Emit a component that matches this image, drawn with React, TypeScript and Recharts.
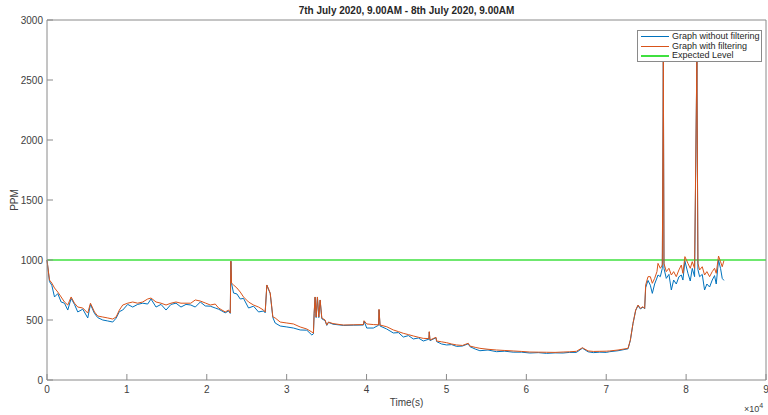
import { LineChart, Line, XAxis, YAxis, ReferenceLine } from "recharts";

// time in seconds
const timeSec = [
  0, 310, 600, 940, 1350, 1770, 2190, 2600, 3020, 3440,
  3850, 4480, 5100, 5440, 5940, 6350, 6980, 7600, 8230, 8650,
  9060, 9480, 10100, 10730, 11350, 11980, 12600, 13020, 13650, 14270,
  14900, 15520, 16150, 16770, 17400, 18000, 18560, 19190, 19810, 20440,
  21060, 21480, 21900, 22310, 22730, 22940, 23020, 23100, 23350, 23770,
  24190, 24600, 25230, 25850, 26480, 27100, 27310, 27520, 27940, 28270,
  28560, 29190, 30020, 30850, 31690, 32520, 33150, 33350, 33440, 33560,
  33690, 33850, 34020, 34190, 34400, 34810, 35020, 35230, 35800, 37100,
  38400, 39600, 39690, 40020, 40850, 41500, 41560, 41690, 42520, 43350,
  44000, 44600, 45250, 45850, 46500, 47100, 47800, 47850, 47940, 48690,
  48770, 49400, 50020, 50650, 51270, 52000, 52730, 52940, 53600, 54190,
  55200, 56270, 57300, 58350, 59400, 60440, 61500, 62520, 63600, 64600,
  65400, 66270, 67020, 67730, 68400, 69190, 70000, 70440, 71480, 72730,
  73020, 73350, 73690, 73980, 74270, 74600, 74810, 74940, 75230, 75520,
  75770, 76060, 76350, 76480, 76770, 77020, 77150, 77230, 77520, 77850,
  78150, 78440, 78770, 79100, 79400, 79600, 79850, 80230, 80520, 80770,
  81060, 81350, 81480, 81690, 82020, 82310, 82600, 82940, 83270, 83560,
  83770, 84060, 84310, 84520, 84730,
];

// PPM with filtering (orange)
const withFiltering = [
  1000, 833, 808, 767, 733, 692, 650, 625, 692, 640,
  608, 600, 558, 640, 567, 533, 525, 517, 508, 525,
  583, 625, 640, 650, 640, 650, 675, 683, 650, 640,
  625, 640, 650, 640, 640, 640, 667, 658, 642, 625,
  633, 600, 583, 567, 583, 558, 990, 808, 792, 767,
  733, 692, 650, 625, 608, 583, 567, 792, 725, 525,
  517, 483, 475, 467, 442, 425, 400, 392, 558, 692,
  525, 692, 525, 667, 517, 500, 458, 483, 470, 458,
  460, 462, 494, 467, 462, 460, 589, 458, 444, 417,
  403, 389, 378, 367, 356, 347, 345, 403, 333, 356,
  325, 318, 311, 300, 292, 288, 306, 283, 272, 264,
  256, 250, 246, 242, 238, 233, 232, 231, 230, 233,
  235, 239, 269, 242, 238, 239, 240, 242, 250, 264,
  333, 472, 583, 625, 597, 611, 597, 792, 861, 861,
  806, 847, 903, 972, 931, 958, 2680, 972, 903, 931,
  875, 903, 861, 917, 958, 889, 1028, 972, 931, 986,
  931, 2700, 972, 917, 944, 875, 903, 861, 903, 931,
  889, 1033, 986, 944, 994,
];

// PPM without filtering (blue)
const withoutFiltering = [
  1000, 820, 790, 692, 720, 650, 640, 583, 680, 630,
  567, 590, 517, 630, 555, 520, 500, 492, 483, 515,
  570, 583, 630, 608, 630, 640, 633, 675, 608, 630,
  583, 630, 640, 608, 630, 625, 608, 650, 617, 615,
  600, 590, 575, 560, 575, 555, 990, 805, 725, 717,
  675, 680, 600, 615, 567, 575, 560, 790, 720, 520,
  475, 450, 442, 433, 417, 415, 375, 385, 555, 690,
  520, 690, 520, 665, 510, 495, 455, 480, 465, 455,
  457, 458, 490, 433, 433, 456, 585, 450, 425, 392,
  395, 358, 370, 342, 350, 325, 340, 400, 328, 352,
  320, 300, 292, 295, 280, 283, 302, 278, 258, 244,
  250, 236, 240, 232, 232, 225, 228, 222, 226, 225,
  230, 230, 265, 235, 228, 232, 230, 236, 244, 260,
  330, 470, 580, 620, 592, 607, 593, 770, 830, 790,
  722, 800, 850, 875, 861, 930, 2680, 930, 847, 880,
  750, 833, 800, 860, 875, 833, 990, 889, 825, 930,
  861, 2700, 920, 861, 880, 750, 800, 775, 833, 870,
  800, 1000, 930, 847, 830,
];

const expectedLevel = 1000;

const xTicks = [0, 10000, 20000, 30000, 40000, 50000, 60000, 70000, 80000, 90000];
const yTicks = [0, 500, 1000, 1500, 2000, 2500, 3000];

const seriesNames = ["Graph without filtering", "Graph with filtering", "Expected Level"];
const title = "7th July 2020, 9.00AM - 8th July 2020, 9.00AM";

const BLUE = "#0072bd";
const ORANGE = "#d95319";
const GREEN = "#3fe03f";
const AXIS = "#8a8a8a";
const TEXT = "#404040";
const FONT = "'Liberation Sans', Arial, Helvetica, sans-serif";

const rows = timeSec.map((t, i) => ({
  t,
  raw: withoutFiltering[i],
  filt: withFiltering[i],
}));

function LegendBox() {
  const colors = [BLUE, ORANGE, GREEN];
  return (
    <div
      style={{
        position: "absolute",
        left: 637,
        top: 30,
        width: 125,
        height: 32,
        border: `1px solid ${AXIS}`,
        background: "#fff",
        fontFamily: FONT,
        fontSize: 9,
        color: "#262626",
        paddingTop: 1,
        boxSizing: "border-box",
      }}
    >
      {seriesNames.map((n, i) => (
        <div key={n} style={{ display: "flex", alignItems: "center", height: 9.5 }}>
          <div
            style={{
              marginLeft: 3,
              width: 28,
              height: i === 2 ? 1.5 : 1,
              background: colors[i],
            }}
          />
          <span style={{ marginLeft: 3, lineHeight: "9.5px" }}>{n}</span>
        </div>
      ))}
    </div>
  );
}

export default function App() {
  return (
    <div
      style={{
        position: "absolute",
        left: 0,
        top: 0,
        width: 768,
        height: 415,
        background: "#fff",
        fontFamily: FONT,
      }}
    >
      <div
        style={{
          position: "absolute",
          left: 47,
          width: 719,
          top: 4,
          textAlign: "center",
          fontSize: 10,
          fontWeight: "bold",
          color: "#262626",
          lineHeight: "14px",
        }}
      >
        {title}
      </div>

      <LineChart
        width={768}
        height={415}
        data={rows}
        margin={{ top: 19, right: 1, bottom: 0, left: 0 }}
      >
        <XAxis
          xAxisId="b"
          dataKey="t"
          type="number"
          domain={[0, 90000]}
          ticks={xTicks}
          interval={0}
          tickFormatter={(v: number) => String(v / 10000)}
          stroke={AXIS}
          tickSize={-6}
          tickMargin={12}
          height={35}
          tick={{ fill: TEXT, fontSize: 10, fontFamily: FONT }}
        />
        <XAxis
          xAxisId="top"
          orientation="top"
          dataKey="t"
          type="number"
          domain={[0, 90000]}
          ticks={xTicks}
          interval={0}
          stroke={AXIS}
          tickSize={-6}
          height={1}
          tick={false}
        />
        <YAxis
          yAxisId="l"
          type="number"
          domain={[0, 3000]}
          ticks={yTicks}
          interval={0}
          stroke={AXIS}
          tickSize={-6}
          tickMargin={10}
          width={47}
          tick={{ fill: TEXT, fontSize: 10, fontFamily: FONT }}
        />
        <YAxis
          yAxisId="r"
          orientation="right"
          type="number"
          domain={[0, 3000]}
          ticks={yTicks}
          interval={0}
          stroke={AXIS}
          tickSize={-6}
          width={1}
          tick={false}
        />
        <ReferenceLine
          xAxisId="b"
          yAxisId="l"
          y={expectedLevel}
          stroke={GREEN}
          strokeWidth={1.5}
        />
        <Line
          xAxisId="b"
          yAxisId="l"
          dataKey="raw"
          type="linear"
          stroke={BLUE}
          strokeWidth={1}
          dot={false}
          isAnimationActive={false}
        />
        <Line
          xAxisId="b"
          yAxisId="l"
          dataKey="filt"
          type="linear"
          stroke={ORANGE}
          strokeWidth={1}
          dot={false}
          isAnimationActive={false}
        />
      </LineChart>

      <div
        style={{
          position: "absolute",
          left: 4,
          top: 200,
          transform: "translate(-50%, -50%) rotate(-90deg)",
          marginLeft: 10,
          fontSize: 10,
          color: TEXT,
        }}
      >
        PPM
      </div>
      <div
        style={{
          position: "absolute",
          left: 47,
          width: 719,
          top: 397,
          textAlign: "center",
          fontSize: 10,
          color: TEXT,
          lineHeight: "12px",
        }}
      >
        Time(s)
      </div>
      <div
        style={{
          position: "absolute",
          left: 744,
          top: 400,
          fontSize: 9,
          color: TEXT,
          lineHeight: "12px",
        }}
      >
        ×10<sup style={{ fontSize: 7, verticalAlign: "4px" }}>4</sup>
      </div>

      <LegendBox />
    </div>
  );
}
